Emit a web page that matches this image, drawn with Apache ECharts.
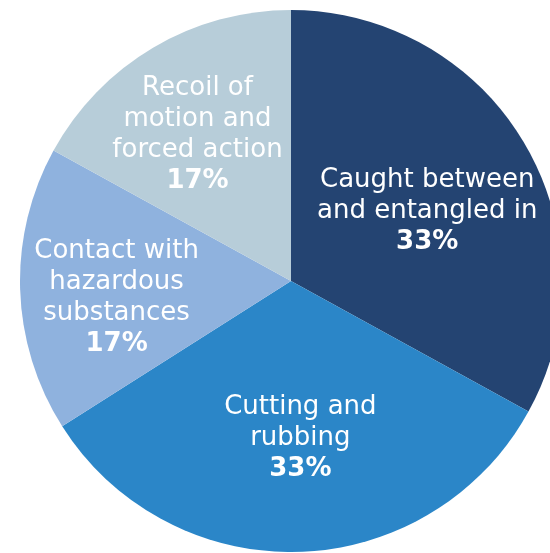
<!DOCTYPE html>
<html><head><meta charset="utf-8">
<script src="https://cdn.jsdelivr.net/npm/echarts@6/dist/echarts.min.js"></script>
<style>html,body{margin:0;padding:0;background:#fff}#c{width:550px;height:553px}</style>
</head><body><div id="c"></div>
<script>
const categories = ['Caught between\nand entangled in', 'Cutting and\nrubbing', 'Contact with\nhazardous\nsubstances', 'Recoil of\nmotion and\nforced action'];
const values = [33, 33, 17, 17];
const colors = ['#244472', '#2b86c8', '#8fb2de', '#b7cdd9'];
const offsets = [[17, 1], [5, 19], [-36, 12], [-23, -27]];

const chart = echarts.init(document.getElementById('c'));
chart.setOption({
  backgroundColor: '#fff',
  animation: false,
  series: [{
    type: 'pie',
    center: [291, 281],
    radius: 271,
    startAngle: 90,
    clockwise: true,
    avoidLabelOverlap: false,
    itemStyle: { borderWidth: 0 },
    label: {
      position: 'inside',
      color: '#fff',
      fontFamily: 'DejaVu Sans',
      formatter: p => '{n|' + p.name + '}\n{p|' + p.value + '%}',
      rich: {
        n: { fontSize: 26, lineHeight: 31, color: '#fff', fontFamily: 'DejaVu Sans', align: 'center' },
        p: { fontSize: 26, lineHeight: 31, color: '#fff', fontWeight: 'bold', fontFamily: 'DejaVu Sans', align: 'center' }
      }
    },
    labelLine: { show: false },
    data: categories.map((c, i) => ({
      name: c, value: values[i],
      itemStyle: { color: colors[i] },
      label: { offset: offsets[i] }
    }))
  }]
});
</script></body></html>
